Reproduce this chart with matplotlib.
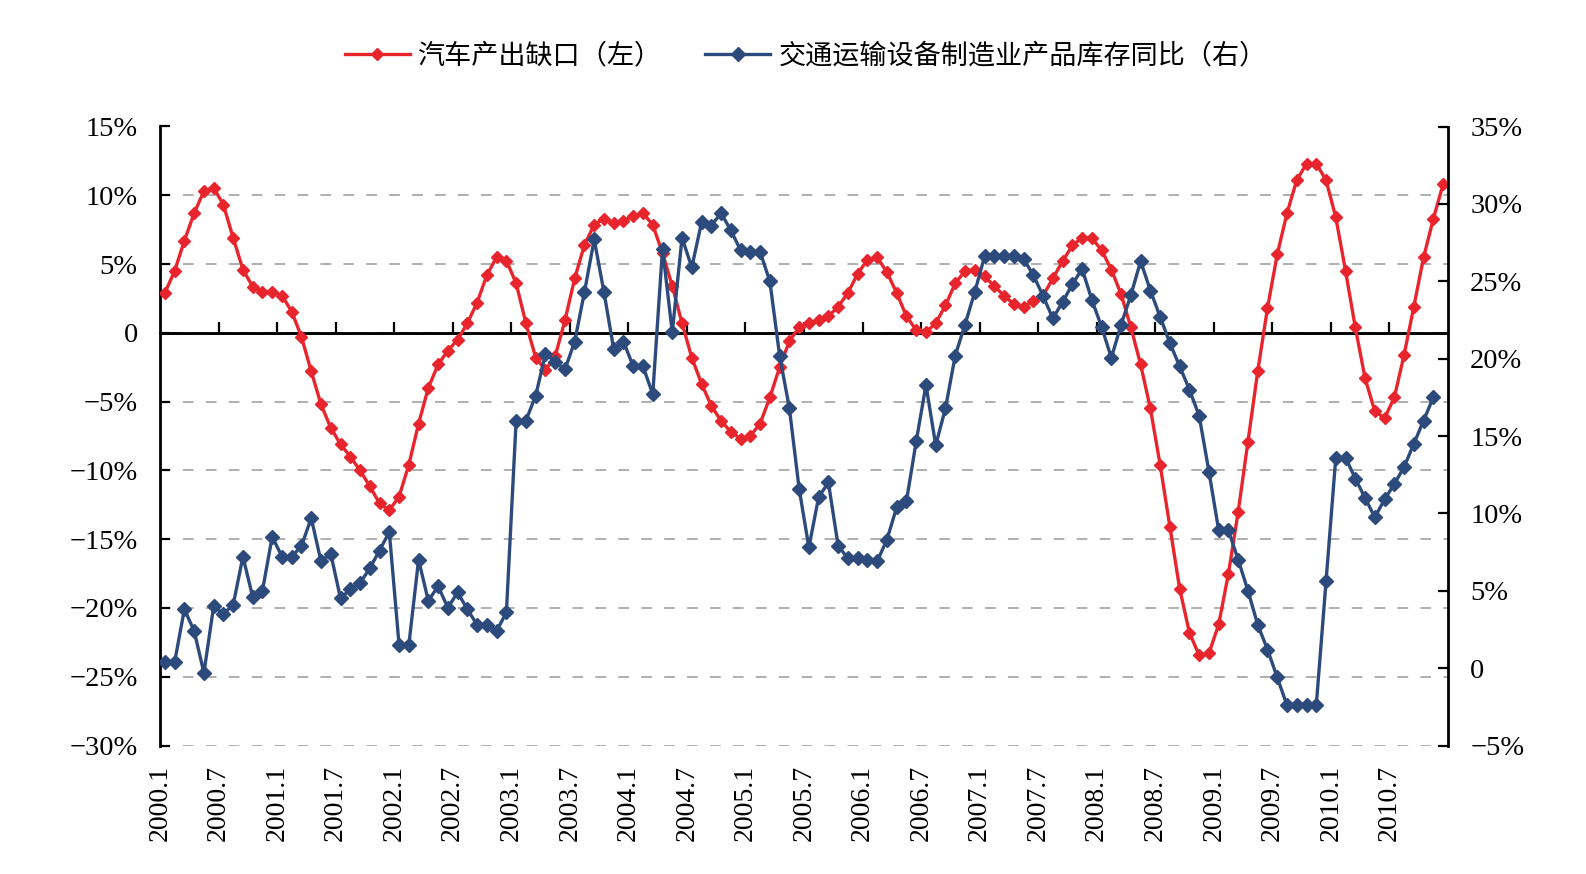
import matplotlib
matplotlib.use("Agg")
import matplotlib.pyplot as plt
import numpy as np
from matplotlib.font_manager import FontProperties

# ---------------- data ----------------
# 汽车产出缺口（左）, monthly 2000.1 - 2010.12, %
red_gap = [
    2.9, 4.5, 6.7, 8.7, 10.3, 10.55, 9.3, 6.9, 4.6, 3.35, 3.0, 3.0,
    2.7, 1.55, -0.3, -2.8, -5.2, -6.9, -8.1, -9.0, -10.0, -11.15, -12.4, -12.9,
    -11.9, -9.6, -6.6, -4.0, -2.3, -1.3, -0.5, 0.7, 2.2, 4.2, 5.5, 5.25,
    3.6, 0.7, -1.8, -2.7, -1.7, 0.9, 3.95, 6.4, 7.85, 8.3, 8.0, 8.15,
    8.5, 8.7, 7.85, 5.8, 3.4, 0.7, -1.8, -3.7, -5.3, -6.4, -7.2, -7.7,
    -7.5, -6.6, -4.7, -2.5, -0.6, 0.4, 0.7, 0.95, 1.2, 1.9, 2.9, 4.3,
    5.3, 5.5, 4.4, 2.9, 1.2, 0.2, 0.05, 0.7, 2.0, 3.6, 4.5, 4.6,
    4.1, 3.4, 2.7, 2.1, 1.9, 2.3, 2.7, 3.95, 5.2, 6.35, 6.9, 6.9,
    6.0, 4.6, 2.8, 0.4, -2.3, -5.5, -9.6, -14.1, -18.6, -21.8, -23.45, -23.3,
    -21.2, -17.5, -13.0, -7.9, -2.8, 1.8, 5.7, 8.7, 11.1, 12.3, 12.3, 11.1,
    8.4, 4.5, 0.4, -3.3, -5.7, -6.2, -4.7, -1.6, 1.9, 5.5, 8.3, 10.8,
]

# 交通运输设备制造业产品库存同比（右）, monthly 2000.1 - 2010.11, %
blue_inv = [
    0.4, 0.4, 3.8, 2.4, -0.3, 4.0, 3.5, 4.1, 7.2, 4.6, 5.0, 8.5,
    7.2, 7.2, 7.9, 9.7, 6.9, 7.4, 4.5, 5.1, 5.5, 6.45, 7.6, 8.8,
    1.5, 1.5, 7.0, 4.35, 5.3, 3.9, 4.9, 3.8, 2.8, 2.8, 2.4, 3.6,
    16.0, 16.0, 17.6, 20.3, 19.8, 19.3, 21.1, 24.3, 27.7, 24.3, 20.6, 21.1,
    19.5, 19.5, 17.7, 27.1, 21.7, 27.8, 25.9, 28.8, 28.6, 29.4, 28.3, 27.0,
    26.9, 26.9, 25.0, 20.2, 16.8, 11.6, 7.8, 11.05, 12.0, 7.9, 7.1, 7.1,
    7.0, 6.9, 8.3, 10.4, 10.8, 14.65, 18.3, 14.4, 16.8, 20.2, 22.2, 24.3,
    26.6, 26.6, 26.6, 26.6, 26.45, 25.4, 24.05, 22.6, 23.65, 24.8, 25.8, 23.8,
    22.05, 20.05, 22.2, 24.1, 26.3, 24.4, 22.7, 21.0, 19.5, 18.0, 16.3, 12.7,
    8.9, 8.9, 7.0, 5.0, 2.8, 1.2, -0.6, -2.4, -2.4, -2.4, -2.4, 5.6,
    13.6, 13.6, 12.25, 11.0, 9.75, 10.9, 11.9, 13.0, 14.5, 16.0, 17.5,
]

x_labels = ["2000.1", "2000.7", "2001.1", "2001.7", "2002.1", "2002.7",
            "2003.1", "2003.7", "2004.1", "2004.7", "2005.1", "2005.7",
            "2006.1", "2006.7", "2007.1", "2007.7", "2008.1", "2008.7",
            "2009.1", "2009.7", "2010.1", "2010.7"]
left_ticks = [15, 10, 5, 0, -5, -10, -15, -20, -25, -30]
right_ticks = [35, 30, 25, 20, 15, 10, 5, 0, -5]

label_red = "汽车产出缺口（左）"
label_blue = "交通运输设备制造业产品库存同比（右）"

# ---------------- style ----------------
RED = "#E8242C"
BLUE = "#2C4B7C"
serif = "Liberation Serif"
cjk = FontProperties(family=["Noto Sans CJK SC", "DejaVu Sans"], size=19.5)

def pct(v):
    if v == 0:
        return "0"
    return ("\u2212" if v < 0 else "") + f"{abs(v)}%"

n_months = 132
fig = plt.figure(figsize=(15.86, 8.74), dpi=100)
ax = fig.add_axes([160 / 1586, 1 - 745.5 / 874, (1448 - 160) / 1586, (745.5 - 126.5) / 874])
ax2 = ax.twinx()

x_r = np.arange(len(red_gap)) + 0.5
x_b = np.arange(len(blue_inv)) + 0.5

ax.axhline(0, color="black", lw=1.9, zorder=2)

l1, = ax.plot(x_r, red_gap, color=RED, lw=2.4, marker="D", ms=6.2,
              mec=RED, mfc=RED, label=label_red, zorder=3)
l2, = ax2.plot(x_b, blue_inv, color=BLUE, lw=2.4, marker="D", ms=7.5,
               mec=BLUE, mfc=BLUE, label=label_blue, zorder=3)

ax.set_xlim(0, n_months)
ax.set_ylim(-30, 15)
ax2.set_ylim(-5, 35)

# gridlines
ax.set_yticks(left_ticks)
ax.set_yticklabels([pct(v) for v in left_ticks], fontfamily=serif, fontsize=20.5)
ax.yaxis.grid(True, linestyle=(0, (7, 8)), color="#9a9a9a", lw=1.1)
ax.set_axisbelow(True)

ax2.set_yticks(right_ticks)
ax2.set_yticklabels([pct(v) for v in right_ticks], fontfamily=serif, fontsize=20.5)

# x tick labels at every 6 months
label_pos = np.arange(0, n_months, 6)
ax.set_xticks(label_pos)
ax.set_xticklabels(x_labels, rotation=90, fontfamily=serif, fontsize=20,
                   ha="center", va="top")
ax.tick_params(axis="x", length=0, pad=14)
ax.tick_params(axis="y", direction="in", length=7, width=1.6, pad=16)
ax2.tick_params(axis="y", direction="in", length=7, width=1.6, pad=16)

for s in ["top", "bottom", "right"]:
    ax.spines[s].set_visible(False)
ax.spines["left"].set_linewidth(2.0)
for s in ["top", "bottom", "left"]:
    ax2.spines[s].set_visible(False)
ax2.spines["right"].set_linewidth(2.0)

# tick marks on the zero line (category axis crossing at 0)
zero_frac = (0 - (-30)) / 45
sec = ax.secondary_xaxis(zero_frac)
sec.set_xticks(np.arange(6, n_months, 6))
sec.tick_params(axis="x", direction="out", length=8, width=1.6,
                labeltop=False, labelbottom=False)
for s in sec.spines.values():
    s.set_linewidth(1.9)
    s.set_color("black")

fig.legend([l1, l2], [label_red, label_blue], loc="center",
           bbox_to_anchor=(0.508, 0.936), ncol=2, frameon=False, prop=cjk,
           handlelength=2.4, handletextpad=0.3, columnspacing=1.6)

fig.savefig("out.png", dpi=100)
